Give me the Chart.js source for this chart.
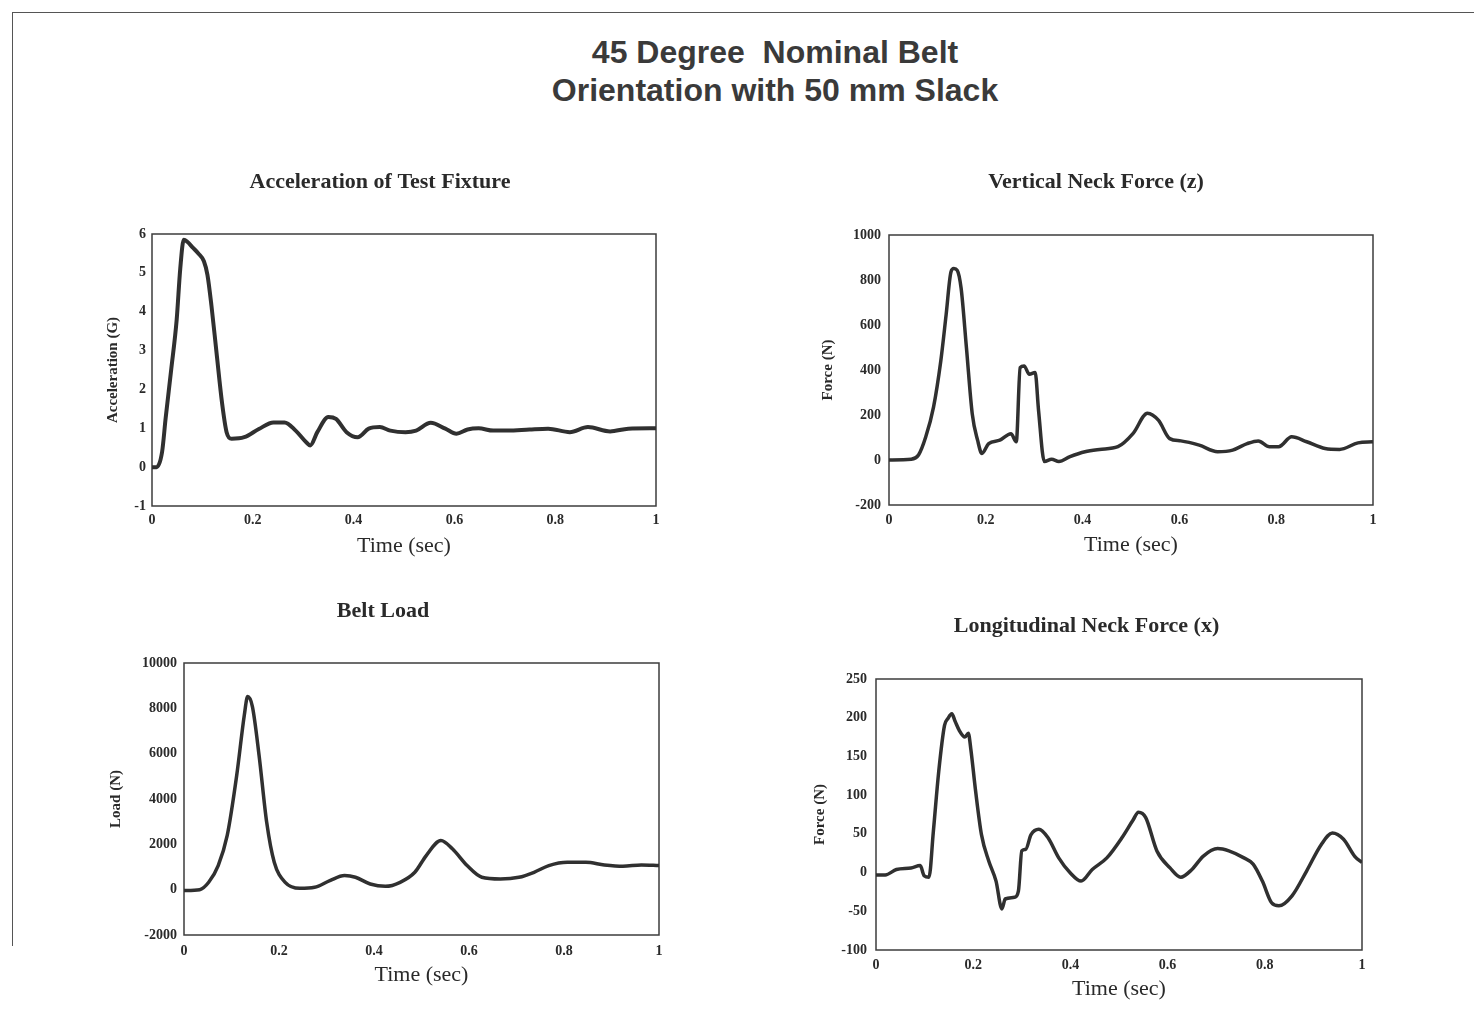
<!DOCTYPE html>
<html><head><meta charset="utf-8">
<script src="https://cdn.jsdelivr.net/npm/chart.js@4.4.0/dist/chart.umd.min.js"></script>
<style>
html,body{margin:0;padding:0;background:#fff;}
body{width:1474px;height:1017px;position:relative;overflow:hidden;}
#frame{position:absolute;left:12px;top:12px;width:1470px;height:933px;border-top:1.5px solid #555;border-left:1.5px solid #555;}
#mainTitle{position:absolute;left:275px;top:33px;width:1000px;text-align:center;font-family:"Liberation Sans",Arial,sans-serif;font-weight:bold;font-size:32px;line-height:38px;color:#3a3a3a;}
canvas{position:absolute;left:0;top:0;}
</style></head>
<body>
<div id="frame"></div>
<div id="mainTitle">45 Degree&nbsp;&nbsp;Nominal Belt<br>Orientation with 50 mm Slack</div>
<canvas id="c1"></canvas><canvas id="c2"></canvas><canvas id="c3"></canvas><canvas id="c4"></canvas>
<script>
// ---- data ----
const xTickValues = [0, 0.2, 0.4, 0.6, 0.8, 1];

const accelTime = [0,0.009,0.02,0.027,0.038,0.049,0.056,0.063,0.07,0.081,0.092,0.103,0.11,0.118,0.128,0.139,0.148,0.158,0.183,0.212,0.241,0.263,0.285,0.306,0.314,0.328,0.35,0.365,0.386,0.408,0.43,0.452,0.473,0.503,0.524,0.553,0.582,0.604,0.626,0.648,0.677,0.706,0.749,0.786,0.829,0.865,0.909,0.945,1.0];
const accelG = [0,0,0.39,1.25,2.5,3.8,5.1,5.85,5.8,5.65,5.5,5.3,4.95,4.15,2.95,1.65,0.9,0.73,0.77,0.98,1.15,1.15,0.94,0.64,0.56,0.9,1.29,1.24,0.9,0.77,0.99,1.03,0.94,0.9,0.94,1.14,0.99,0.86,0.97,1.0,0.94,0.94,0.97,0.99,0.9,1.03,0.92,0.99,1.0];
const accelTicks = [-1,0,1,2,3,4,5,6];

const vertTime = [0,0.046,0.061,0.076,0.092,0.107,0.118,0.128,0.134,0.141,0.149,0.16,0.172,0.183,0.192,0.206,0.229,0.252,0.263,0.271,0.279,0.29,0.302,0.309,0.321,0.336,0.351,0.374,0.405,0.435,0.473,0.504,0.534,0.557,0.58,0.603,0.641,0.679,0.71,0.74,0.763,0.786,0.805,0.832,0.863,0.901,0.931,0.969,1.0];
const vertForce = [0,3,22,103,235,440,645,836,851,843,763,499,205,88,29,73,88,117,81,411,418,381,389,220,-7,3,-7,15,37,47,59,117,208,176,95,85,66,37,44,73,85,59,59,103,81,51,47,76,81];
const vertTicks = [-200,0,200,400,600,800,1000];

const beltTime = [0,0.033,0.052,0.072,0.091,0.111,0.127,0.134,0.144,0.158,0.174,0.19,0.213,0.244,0.275,0.307,0.338,0.361,0.392,0.424,0.455,0.486,0.51,0.541,0.565,0.596,0.627,0.666,0.705,0.737,0.768,0.807,0.846,0.885,0.924,0.963,1.0];
const beltLoad = [-40,0,325,1063,2391,5048,7705,8517,8074,5934,2982,1210,325,59,103,399,620,546,251,148,325,768,1506,2170,1801,1063,546,472,546,768,1063,1210,1210,1092,1033,1092,1063];
const beltTicks = [-2000,0,2000,4000,6000,8000,10000];

const longTime = [0,0.019,0.042,0.072,0.091,0.099,0.109,0.118,0.129,0.141,0.148,0.156,0.163,0.171,0.183,0.19,0.195,0.205,0.217,0.232,0.247,0.259,0.266,0.285,0.293,0.3,0.308,0.319,0.335,0.354,0.376,0.399,0.422,0.445,0.475,0.506,0.529,0.54,0.555,0.578,0.605,0.627,0.65,0.673,0.703,0.726,0.757,0.776,0.795,0.814,0.829,0.856,0.886,0.916,0.939,0.962,0.985,1.0];
const longForce = [-3,-3,4,6,9,-4,-6,53,130,190,199,205,195,184,175,180,160,105,49,15,-11,-47,-34,-32,-24,28,30,49,56,45,19,0,-11,4,19,45,68,78,71,28,6,-6,4,21,31,28,19,11,-11,-39,-43,-30,2,36,51,43,21,13];
const longTicks = [-100,-50,0,50,100,150,200,250];

// ---- drawing ----
const W = 1474, H = 1017;
const serif = "'Liberation Serif','Times New Roman',serif";
const TITLE_SIZE = 22, TICK_SIZE = 14, YTITLE_SIZE = 15, XTITLE_SIZE = 22;
const boxPlugin = {
  id: 'plotBox',
  beforeDatasetsDraw(chart) {
    const {ctx, chartArea: a} = chart;
    ctx.save();
    ctx.strokeStyle = '#3c3c3c';
    ctx.lineWidth = 1.5;
    ctx.strokeRect(a.left, a.top, a.right - a.left, a.bottom - a.top);
    ctx.restore();
  }
};

function makeChart(id, title, yTitle, times, values, yTickValues, lay) {
  const canvas = document.getElementById(id);
  canvas.width = W; canvas.height = H;
  canvas.style.width = W + 'px'; canvas.style.height = H + 'px';
  const points = times.map((t, i) => ({x: t, y: values[i]}));
  const titleLH = TITLE_SIZE * 1.2;
  const T = lay.titleY - titleLH / 2;
  const xH = lay.xTitleY + XTITLE_SIZE * 0.6 - lay.PB;
  const xPad = lay.xTickY - lay.PB - TICK_SIZE * 0.6;
  const yW = lay.PL - (lay.yTitleX - YTITLE_SIZE * 0.6);
  return new Chart(canvas, {
    type: 'line',
    data: { datasets: [{ data: points, borderColor: '#303030', borderWidth: lay.lw,
      pointRadius: 0, cubicInterpolationMode: 'monotone', fill: false }] },
    plugins: [boxPlugin],
    options: {
      responsive: false, animation: false, devicePixelRatio: 1,
      layout: { padding: { left: lay.PL - yW, right: W - lay.PR, top: T,
        bottom: H - lay.PB - xH } },
      plugins: {
        legend: { display: false }, tooltip: { enabled: false },
        title: { display: true, text: title, color: '#2a2a2a',
          font: { family: serif, size: TITLE_SIZE, weight: 'bold', lineHeight: 1.2 },
          padding: { top: 0, bottom: lay.PT - T - titleLH } }
      },
      scales: {
        x: {
          type: 'linear', min: 0, max: 1,
          grid: { display: false, drawTicks: false }, border: { display: false },
          afterBuildTicks: ax => { ax.ticks = xTickValues.map(v => ({value: v})); },
          afterFit: ax => { ax.height = xH; },
          ticks: { padding: xPad, color: '#2a2a2a', maxRotation: 0, autoSkip: false,
            font: { family: serif, size: TICK_SIZE, weight: 'bold', lineHeight: 1.2 },
            callback: v => String(v) },
          title: { display: true, text: 'Time (sec)', color: '#2a2a2a', padding: 0,
            font: { family: serif, size: XTITLE_SIZE, lineHeight: 1.2 } }
        },
        y: {
          type: 'linear', min: yTickValues[0], max: yTickValues[yTickValues.length - 1],
          grid: { display: false, drawTicks: false }, border: { display: false },
          afterBuildTicks: ax => { ax.ticks = yTickValues.map(v => ({value: v})); },
          afterFit: ax => { ax.width = yW; },
          ticks: { padding: lay.yPad, color: '#2a2a2a', autoSkip: false,
            font: { family: serif, size: TICK_SIZE, weight: 'bold', lineHeight: 1.2 },
            callback: v => String(v) },
          title: { display: true, text: yTitle, color: '#2a2a2a', padding: 0,
            font: { family: serif, size: YTITLE_SIZE, weight: 'bold', lineHeight: 1.2 } }
        }
      }
    }
  });
}

makeChart('c1', 'Acceleration of Test Fixture', 'Acceleration (G)', accelTime, accelG, accelTicks,
  { PL: 152, PT: 234, PR: 656, PB: 506, yTitleX: 113, yPad: 6, xTickY: 520, xTitleY: 546, titleY: 182, lw: 4 });
makeChart('c2', 'Vertical Neck Force (z)', 'Force (N)', vertTime, vertForce, vertTicks,
  { PL: 889, PT: 235, PR: 1373, PB: 505, yTitleX: 828, yPad: 8, xTickY: 520, xTitleY: 545, titleY: 182, lw: 3.5 });
makeChart('c3', 'Belt Load', 'Load (N)', beltTime, beltLoad, beltTicks,
  { PL: 184, PT: 663, PR: 659, PB: 935, yTitleX: 116, yPad: 7, xTickY: 951, xTitleY: 975, titleY: 611, lw: 3.5 });
makeChart('c4', 'Longitudinal Neck Force (x)', 'Force (N)', longTime, longForce, longTicks,
  { PL: 876, PT: 679, PR: 1362, PB: 950, yTitleX: 820, yPad: 9, xTickY: 965, xTitleY: 989, titleY: 626, lw: 3.5 });
</script>
</body></html>
